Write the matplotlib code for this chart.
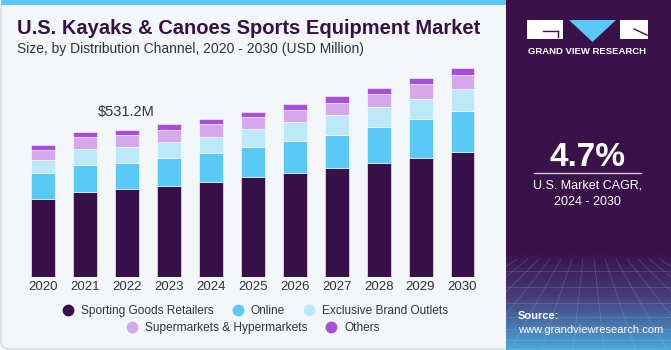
import matplotlib.pyplot as plt
import numpy as np
from matplotlib.lines import Line2D
from matplotlib.patches import Rectangle, Polygon, FancyBboxPatch
from matplotlib.colors import LinearSegmentedColormap

plt.rcParams['font.family'] = ['Liberation Sans', 'DejaVu Sans']

years = ['2020', '2021', '2022', '2023', '2024', '2025', '2026', '2027', '2028', '2029', '2030']
sporting_goods = [280, 307, 317, 329, 344, 360, 374, 392, 410, 431, 451]
online = [95, 97, 95, 101, 102, 108, 116, 122, 130, 138, 148]
brand_outlets = [47, 58, 59, 59, 61, 66, 69, 71, 73, 75, 81]
supermarkets = [35, 42, 41, 41, 46, 44, 44, 44, 48, 51, 51]
others = [19, 18, 19, 22, 18, 18, 22, 24, 21, 24, 24]

series = [
    ('Sporting Goods Retailers', sporting_goods, '#37104a'),
    ('Online', online, '#5bc9f5'),
    ('Exclusive Brand Outlets', brand_outlets, '#bde8f8'),
    ('Supermarkets & Hypermarkets', supermarkets, '#d5a8ec'),
    ('Others', others, '#a64fdb'),
]

W, H = 671, 350
fig = plt.figure(figsize=(W / 100, H / 100), dpi=100)
fig.patch.set_facecolor('#f3f7fa')


def px(x0, y0, x1, y1):
    # pixel box (top-left origin) -> figure fraction rect
    return [x0 / W, 1 - y1 / H, (x1 - x0) / W, (y1 - y0) / H]


# background frame
frame = fig.add_axes([0, 0, 1, 1])
frame.set_xlim(0, W)
frame.set_ylim(H, 0)
frame.axis('off')
frame.add_patch(FancyBboxPatch((1, 1), W - 2, H - 2, boxstyle='round,pad=0,rounding_size=8',
                               fc='#f3f7fa', ec='#cfd6dc', lw=0.8))
frame.add_patch(Rectangle((1, 0), 506, 4.5, fc='#5bc9f5', ec='none'))

# right panel with gradient
grad = np.linspace(0, 1, 200)[:, None]
panel = fig.add_axes(px(506, 0, W, H))
panel.axis('off')
cmap = LinearSegmentedColormap.from_list('p', [(0, '#3a1149'), (0.72, '#3a1149'),
                                               (0.84, '#463775'), (1, '#4aa6d8')])
panel.imshow(grad, aspect='auto', cmap=cmap, extent=[0, 1, 0, 1], origin='upper')
panel.set_xlim(0, 1)
panel.set_ylim(0, 1)
# perspective grid on the bottom of the panel
for k in np.linspace(-1.5, 2.5, 22):
    panel.plot([0.5 + (k - 0.5) * 0.35, k], [0.26, 0.0], color='#9cc4ee', lw=0.4, alpha=0.35)
for yy in [0.005, 0.03, 0.06, 0.095, 0.135, 0.18, 0.225]:
    panel.plot([0, 1], [yy, yy], color='#9cc4ee', lw=0.4, alpha=0.35)

# overlay for text and logo
top = fig.add_axes([0, 0, 1, 1])
top.set_xlim(0, W)
top.set_ylim(H, 0)
top.axis('off')

top.add_patch(Rectangle((527, 20), 36, 19, fc='white', ec='none'))
top.plot([543, 558], [31, 31], color='#3a1149', lw=1)
top.plot([558, 558], [31, 37], color='#3a1149', lw=1)
top.add_patch(Polygon([(569, 20), (616, 20), (592.5, 42)], fc='#5bc9f5', ec='none'))
top.add_patch(Rectangle((620, 20), 28, 19, fc='white', ec='none'))
top.plot([634, 647], [29, 35], color='#3a1149', lw=1)
top.text(587.5, 51, 'GRAND VIEW RESEARCH', color='white', fontsize=6.8, fontweight='bold',
         ha='center', va='center')

top.text(587.5, 157, '4.7%', color='white', fontsize=24, fontweight='bold', ha='center', va='center')
top.plot([534, 641], [173, 173], color='#d8cde0', lw=1)
top.text(587.5, 186, 'U.S. Market CAGR,', color='white', fontsize=9, ha='center', va='center')
top.text(587.5, 202, '2024 - 2030', color='white', fontsize=9, ha='center', va='center')
top.text(518, 316, 'Source:', color='white', fontsize=8, fontweight='bold', ha='left', va='center')
top.text(518, 330, 'www.grandviewresearch.com', color='white', fontsize=8, ha='left', va='center')

# titles
top.text(17, 28, 'U.S. Kayaks & Canoes Sports Equipment Market', color='#37104a', fontsize=14.5,
         fontweight='bold', ha='left', va='center')
top.text(17, 49, 'Size, by Distribution Channel, 2020 - 2030 (USD Million)', color='#333333',
         fontsize=10, ha='left', va='center')

# chart
ax = fig.add_axes(px(21.8, 60, 483.5, 277))
ax.set_facecolor('none')
x = np.arange(len(years))
bottom = np.zeros(len(years))
handles = []
for name, vals, color in series:
    ax.bar(x, vals, 0.57, bottom=bottom, color=color, edgecolor='#ffffff', linewidth=0.4)
    bottom += np.array(vals)
    handles.append(Line2D([], [], marker='o', ls='none', color=color, markersize=7.5, label=name))

ax.set_xlim(-0.5, len(years) - 0.5)
ax.set_ylim(0, 217 * 3.61)
ax.set_xticks(x)
ax.set_xticklabels(years, fontsize=9.5, color='#333333')
ax.tick_params(axis='x', length=0, pad=3)
ax.set_yticks([])
for s in ax.spines.values():
    s.set_visible(False)

ax.annotate('$531.2M', (2, bottom[2]), xytext=(0, 8), textcoords='offset points',
            ha='center', va='bottom', fontsize=10.5, color='#333333')

leg1 = fig.legend(handles=handles[:3], loc='center', bbox_to_anchor=(252 / W, 1 - 311 / H),
                  ncol=3, frameon=False, fontsize=8.6, handletextpad=0.1, columnspacing=1.0,
                  labelcolor='#333333')
leg2 = fig.legend(handles=handles[3:], loc='center', bbox_to_anchor=(250 / W, 1 - 328 / H),
                  ncol=2, frameon=False, fontsize=8.6, handletextpad=0.1, columnspacing=1.0,
                  labelcolor='#333333')

fig.savefig('out.png', dpi=100, facecolor=fig.get_facecolor())
